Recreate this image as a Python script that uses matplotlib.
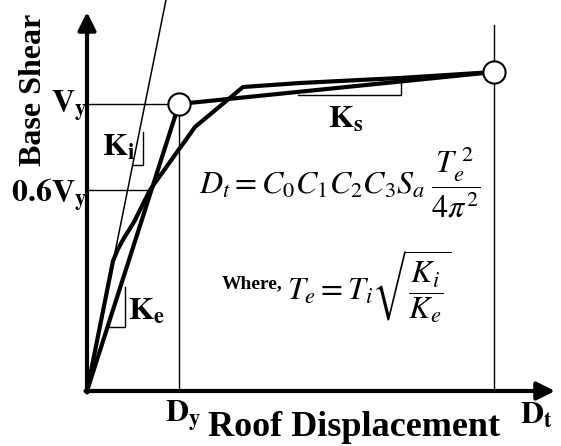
import matplotlib
matplotlib.use('Agg')
import matplotlib.pyplot as plt

# --- data (sketch units: displacement, base shear) ---
# idealised bilinear curve: origin -> yield (Dy, Vy) -> target (Dt)
bilin_d = [0, 92, 407]
bilin_v = [0, 287, 319]

# capacity (pushover) curve
curve_d = [0, 26, 31, 37, 47, 63, 70, 108, 156, 213, 313, 407]
curve_v = [0, 130, 142, 153, 169, 201, 211, 264, 304, 308, 313, 319]

# initial stiffness line Ki (through origin)
ki_d = [0, 80]
ki_v = [0, 396]

Dy, Dt = 92, 407
Vy, V06 = 287, 201
d_at_06 = 63

# slope triangles (legs only): (x_start, x_corner, y_bottom, y_top)
tri_ki = (46, 56, 226, 259)
tri_ke = (21, 38, 64, 104)
tri_ks = (211, 314, 296, 308)

plt.rcParams['mathtext.fontset'] = 'stix'

fig = plt.figure(figsize=(5.61, 4.46), dpi=100)
ax = fig.add_axes([0, 0, 1, 1])
ax.set_xlim(-87, 474)
ax.set_ylim(-55, 391)
ax.axis('off')

# axes with arrows
arr = dict(arrowstyle='-|>,head_length=0.4,head_width=0.2', lw=3,
           color='k', mutation_scale=27, shrinkA=0, shrinkB=0)
ax.annotate('', xy=(0, 379), xytext=(0, -1.5), arrowprops=arr)
ax.annotate('', xy=(468, 0), xytext=(-1.5, 0), arrowprops=arr)

# reference lines
ax.plot([0, Dy], [Vy, Vy], color='k', lw=1)
ax.plot([0, d_at_06], [V06, V06], color='k', lw=1)
ax.plot([Dy, Dy], [0, Vy], color='k', lw=1)
ax.plot([Dt, Dt], [0, 366], color='k', lw=1)

# Ki line
ax.plot(ki_d, ki_v, color='k', lw=1.1)

# curves
ax.plot(curve_d, curve_v, color='k', lw=3, solid_joinstyle='round')
ax.plot(bilin_d, bilin_v, color='k', lw=3, solid_joinstyle='miter')

# slope triangles
for x0, x1, yb, yt in (tri_ki, tri_ke, tri_ks):
    ax.plot([x0, x1, x1], [yb, yb, yt], color='k', lw=1)

# yield and target points
ax.plot([Dy, Dt], [Vy, bilin_v[-1]], 'o', ms=16, mfc='white', mec='k', mew=1.5)

bold = dict(fontfamily='Liberation Serif', fontweight='bold')
ax.text(-53, 301, 'Base Shear', rotation=90, fontsize=23, ha='center', va='center', **bold)
ax.text(121, -45, 'Roof Displacement', fontsize=26, ha='left', va='baseline', **bold)

ax.text(-36, 279, r'$\mathbf{V_y}$', fontsize=23, ha='left', va='baseline')
ax.text(-76, 189, r'$\mathbf{0.6V_y}$', fontsize=23, ha='left', va='baseline')
ax.text(15, 236, r'$\mathbf{K_i}$', fontsize=23, ha='left', va='baseline')
ax.text(41, 71, r'$\mathbf{K_e}$', fontsize=23, ha='left', va='baseline')
ax.text(241, 263, r'$\mathbf{K_s}$', fontsize=23, ha='left', va='baseline')
ax.text(78, -31, r'$\mathbf{D_y}$', fontsize=23, ha='left', va='baseline')
ax.text(433, -32, r'$\mathbf{D_t}$', fontsize=23, ha='left', va='baseline')

ax.text(112, 198, r'$D_t = C_0C_1C_2C_3S_a\;\dfrac{T_e^{\;2}}{4\pi^2}$',
        fontsize=23, ha='left', va='baseline')
ax.text(135, 103, 'Where,', fontsize=14, ha='left', va='baseline', **bold)
ax.text(200, 91, r'$T_e = T_i\sqrt{\dfrac{K_i}{K_e}}$',
        fontsize=23, ha='left', va='baseline')

fig.savefig('out.png', dpi=100)
